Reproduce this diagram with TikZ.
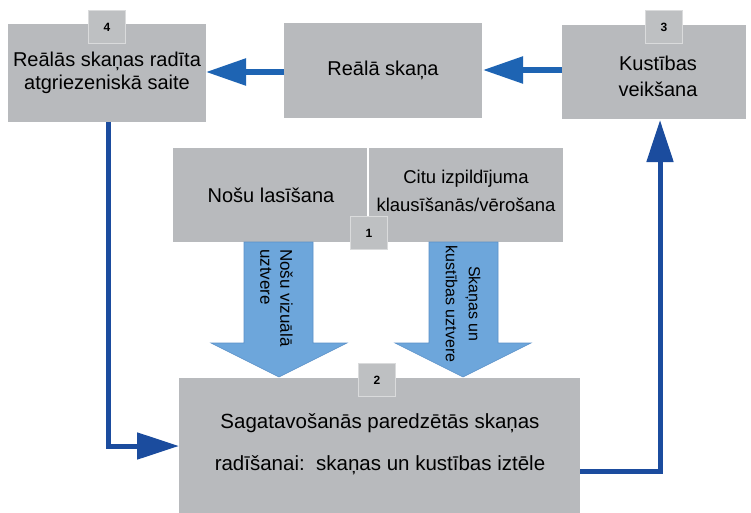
\documentclass[tikz,border=0pt]{standalone}
\usepackage{fontspec}
\setmainfont{Liberation Sans}
\usetikzlibrary{arrows.meta}
\definecolor{boxgray}{HTML}{B8BABD}
\definecolor{tabgray}{HTML}{BEC0C2}
\definecolor{tabedge}{HTML}{DADBDC}
\definecolor{flowblue}{HTML}{1E64B3}
\definecolor{loopblue}{HTML}{1B4C9E}
\definecolor{bigfill}{HTML}{6DA6DB}
\definecolor{bigedge}{HTML}{5A90C8}
\tikzset{
  box/.style={fill=boxgray, draw=none, inner sep=0pt, outer sep=0pt},
  boxtext/.style={font=\fontsize{20}{23}\selectfont, align=center, text=black},
  tab/.style={fill=tabgray, draw=tabedge, line width=1pt, minimum width=37pt,
    minimum height=33pt, inner sep=0pt, font=\bfseries\fontsize{12}{14}\selectfont},
  flow/.style={draw=flowblue, line width=5.5pt, -{Triangle[length=40pt,width=26pt]}},
  loopline/.style={draw=loopblue, line width=5pt, line join=miter},
  looptip/.style={-{Triangle[length=42pt,width=26pt]}},
  bigarrow/.style={fill=bigfill, draw=bigedge, line width=0.6pt},
  arrowtext/.style={rotate=-90, text=black, inner sep=0pt}
}
\begin{document}
\begin{tikzpicture}[x=1pt, y=-1pt]
\useasboundingbox (0,0) rectangle (751,513);
\fill[white] (0,0) rectangle (751,513);

% top row of boxes
\path[box] (8,24) rectangle (206,122);
\node[boxtext] (t4) at (107,73) {Reālās skaņas radīta\\atgriezeniskā saite};
\path[box] (284,23) rectangle (482,118);
\node[boxtext] (treal) at (383,70) {Reālā skaņa};
\path[box] (562,25) rectangle (746,119);
\node[boxtext, font=\fontsize{20}{26}\selectfont] (t3) at (658,76) {Kustības\\veikšana};

% box 1, split in two halves
\path[box] (173,148) rectangle (367,242);
\path[box] (369,148) rectangle (563,242);
\node[boxtext] (t1a) at (271,195) {Nošu lasīšana};
\node[boxtext, font=\fontsize{18.5}{28}\selectfont] (t1b) at (466,191) {Citu izpildījuma\\klausīšanās/vērošana};

% box 2
\path[box] (179,378) rectangle (580,513);
\node[boxtext, font=\fontsize{20.5}{42}\selectfont] (t2) at (380,444) {Sagatavošanās paredzētās skaņas\\radīšanai:\ \ skaņas un kustības iztēle};

% number tabs
\node[tab] (n4) at (107,27) {4};
\node[tab] (n3) at (664,27) {3};
\node[tab] (n1) at (369,233) {1};
\node[tab] (n2) at (377,380) {2};

% wide downward arrows
\path[bigarrow] (244,242) -- (313,242) -- (313,343) -- (347,343) -- (279,377)
  -- (211,343) -- (244,343) -- cycle;
\path[bigarrow] (429,242) -- (498,242) -- (498,343) -- (531,343) -- (463,377)
  -- (395,343) -- (429,343) -- cycle;
\node[arrowtext, anchor=north west, align=left, font=\fontsize{17}{20}\selectfont] (a1) at (293,249)
  {Nošu vizuālā\\uztvere};
\node[arrowtext, align=center, font=\fontsize{16}{23}\selectfont] (a2) at (463,304)
  {Skaņas un\\kustības uztvere};

% flow along the top row
\coordinate (r3) at (562,70);
\coordinate (rr) at (483,70);
\coordinate (rl) at (284,72);
\coordinate (r4) at (206,72);
\draw[flow] (r3) -- (rr);
\draw[flow] (rl) -- (r4);

% feedback loops
\coordinate (d4) at (108,122);
\coordinate (c4) at (108,446);
\coordinate (e2) at (179,446);
\draw[loopline, looptip] (d4) -- (c4) -- (e2);
\coordinate (o2) at (580,471);
\coordinate (c3) at (660,471);
\coordinate (u3) at (660,120);
\draw[loopline, looptip] (o2) -- (c3) -- (u3);
\end{tikzpicture}
\end{document}
